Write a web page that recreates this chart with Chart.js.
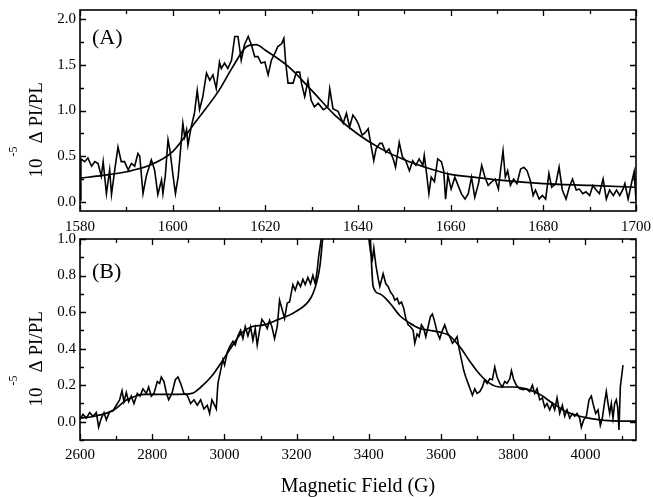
<!DOCTYPE html>
<html>
<head>
<meta charset="utf-8">
<script src="https://cdn.jsdelivr.net/npm/chart.js@4"></script>
<style>
  body { margin: 0; background: #fff; }
  .panel { position: absolute; left: 0; }
</style>
</head>
<body>
<div class="panel" style="top:0px"><canvas id="chartA" width="653" height="240"></canvas></div>
<div class="panel" style="top:230px"><canvas id="chartB" width="653" height="267"></canvas></div>
<script>
// Panel (A): measured trace and fit
const aTraceX = [1580,1580.2,1581.0,1581.7,1582.5,1583.2,1583.9,1584.6,1585.0,1585.7,
  1586.4,1586.8,1587.5,1588.2,1588.9,1589.6,1590.4,1591.1,1591.8,1592.5,
  1592.9,1593.6,1594.3,1595.4,1596.1,1596.8,1597.6,1597.9,1598.4,1599.0,
  1599.4,1600.1,1600.6,1601.2,1602.2,1602.6,1603.0,1603.3,1604.0,1604.7,
  1605.3,1605.8,1606.5,1607.3,1608.0,1608.7,1609.4,1610.1,1610.5,1611.2,
  1611.9,1612.7,1613.4,1614.1,1614.8,1615.5,1616.3,1617.0,1617.7,1618.4,
  1619.1,1619.9,1620.6,1621.3,1622.0,1622.7,1623.5,1624.0,1624.4,1624.9,
  1626.0,1626.7,1627.4,1627.8,1628.5,1629.2,1629.9,1630.6,1631.4,1632.5,
  1633.5,1633.9,1634.6,1635.7,1636.8,1637.5,1638.2,1638.9,1639.6,
  1640.1,1640.9,1641.6,1642.2,1642.7,1643.4,1643.9,1644.7,1645.2,1646.0,
  1646.7,1647.6,1648.1,1648.9,1649.6,1650.3,1651.1,1651.8,1652.5,1653.2,
  1654.0,1654.3,1654.8,1655.3,1655.8,1656.5,1657.2,1658.0,1658.5,1658.9,
  1659.4,1660.1,1660.9,1661.6,1662.3,1663.1,1663.8,1664.5,1665.2,1666.0,
  1666.7,1667.4,1668.1,1668.9,1669.6,1670.3,1670.8,1671.3,1671.8,1672.3,
  1672.9,1673.6,1674.3,1675.1,1675.8,1676.5,1677.2,1677.8,1678.3,1679.1,
  1679.8,1680.5,1681.2,1681.8,1682.7,1683.4,1684.1,1684.9,1685.6,1686.3,
  1687.1,1687.8,1688.5,1689.2,1690.0,1690.7,1691.4,1692.1,1692.9,1693.6,
  1694.3,1695.1,1695.8,1696.5,1697.2,1697.6,1698.3,1699.1,1699.6,1700];
const aTraceY = [0.02,0.47,0.44,0.48,0.39,0.44,0.42,0.28,0.44,0.09,
  0.35,0.08,0.35,0.60,0.44,0.44,0.35,0.42,0.39,0.53,
  0.50,0.09,0.28,0.46,0.35,0.08,0.24,0.09,0.28,0.68,
  0.57,0.28,0.09,0.28,0.86,0.71,0.79,0.62,0.82,0.97,
  1.22,1.01,1.15,1.41,1.33,1.39,1.24,1.53,1.46,1.52,
  1.46,1.55,1.81,1.81,1.55,1.72,1.81,1.72,1.59,1.59,
  1.52,1.53,1.39,1.55,1.62,1.70,1.73,1.79,1.52,1.30,
  1.30,1.42,1.42,1.30,1.15,1.33,1.11,1.04,1.08,1.01,
  1.04,1.24,1.02,0.99,0.86,0.97,0.82,0.95,0.90,
  0.85,0.73,0.76,0.80,0.65,0.45,0.58,0.64,0.64,0.54,
  0.58,0.47,0.38,0.65,0.49,0.45,0.34,0.45,0.40,0.47,
  0.40,0.51,0.31,0.09,0.27,0.22,0.47,0.44,0.34,0.03,
  0.29,0.14,0.27,0.18,0.09,0.03,0.09,0.27,0.05,0.20,
  0.40,0.27,0.18,0.22,0.25,0.14,0.36,0.56,0.27,0.34,
  0.18,0.25,0.20,0.36,0.38,0.34,0.23,0.07,0.13,0.03,
  0.07,0.03,0.31,0.16,0.20,0.38,0.13,0.03,0.16,0.25,
  0.13,0.14,0.09,0.11,0.07,0.18,0.13,0.09,0.25,0.03,
  0.13,0.07,0.13,0.07,0.14,0.20,0.03,0.22,0.33,0.02];
const aFitX = [1580,1585,1590,1595,1600,1605,1610,1613,1616,1618,1620,1625,1630,1635,1640,1645,1650,1655,1660,1665,1670,1680,1690,1700];
const aFitY = [0.26,0.29,0.33,0.40,0.55,0.88,1.22,1.48,1.70,1.72,1.66,1.48,1.22,0.95,0.74,0.58,0.46,0.37,0.30,0.27,0.24,0.20,0.18,0.16];

// Panel (B): measured trace and fit (null = off scale, above 1.0)
const bTraceX = [2599.1,2608.3,2617.6,2626.8,2636,2645.2,2651.7,2659.1,2666.5,2672.9,
  2682.2,2691.4,2700.6,2709.8,2716.3,2721.8,2728.3,2734.8,2742.1,2749.5,
  2758.7,2766.1,2774.4,2783.7,2790.1,2797.5,2804.9,2814.1,2820.6,2825.2,
  2832.6,2839,2845.5,2854.7,2864,2871.3,2878.7,2887.9,2897.1,2906.4,
  2915.6,2924.8,2934.1,2943.3,2952.5,2959,2965.4,2972.8,2977.4,2982,
  2989.4,2995.9,3000.5,3007.9,3014.3,3023.6,3030,3037.4,3044.8,3051.2,
  3057.7,3065.1,3072.5,3078.9,3085.4,3090.9,3097.4,3103.8,3111.2,3118.6,
  3125.1,3131.5,3138.9,3146.3,3152.7,3159.2,3166.6,3174,3180.4,3189.6,
  3196.1,3203.5,3210.9,3217.3,3223.8,3231.2,3238.6,3245,3251.5,3257,
  3260.7,3266.2,3272,
  3335,
  3399,3401,3404.6,3410,3413.8,3419.3,3425.8,3430.4,3439.6,3447,
  3453.5,3459.9,3467.3,3471.9,3478.4,3483.9,3490.4,3496.8,3502.4,3508.8,
  3515.3,3522.7,3527.3,3533.7,3539.3,3545.7,3552.2,3557.7,3564.2,3570.6,
  3576.2,3582.6,3589.1,3596.5,3603.9,3610.3,3616.8,3624.2,3631.5,3638,
  3644.5,3650,3656.5,3662.9,3668.5,3674.9,3681.4,3686.9,3693.4,3699.8,
  3707.2,3714.6,3721,3727.5,3734.9,3742.3,3748.7,3755.2,3762.6,3770,
  3776.4,3782.9,3790.3,3794.9,3801.3,3808.7,3817.9,3827.2,3836.4,3845.6,
  3853,3859.5,3865.9,3873.3,3880.7,3887.1,3893.6,3901,3908.4,3914.8,
  3921.3,3928.7,3936,3942.5,3949,3956.3,3963.7,3970.2,3976.6,3984,
  3988.6,3995.1,4002.5,4009.9,4016.3,4020.9,4028.3,4034.8,4041.2,4046.8,
  4053.2,4057.8,4062.5,4067.1,4071.7,4076.3,4081,4085.5,4089.2,4092.9,
  4096.6,4104];
const bTraceY = [0.01,0.04,0.02,0.05,0.03,0.05,-0.03,0.02,0.05,0.01,
  0.055,0.06,0.09,0.12,0.17,0.11,0.16,0.11,0.14,0.10,
  0.155,0.14,0.18,0.155,0.19,0.14,0.155,0.22,0.21,0.245,
  0.22,0.16,0.12,0.155,0.23,0.245,0.21,0.155,0.145,0.10,
  0.12,0.09,0.12,0.07,0.09,0.045,0.12,0.09,0.07,0.21,
  0.28,0.34,0.31,0.38,0.41,0.44,0.42,0.47,0.50,0.455,
  0.52,0.47,0.52,0.445,0.51,0.42,0.50,0.56,0.54,0.51,
  0.555,0.52,0.455,0.52,0.665,0.62,0.565,0.65,0.655,0.75,
  0.72,0.765,0.74,0.78,0.75,0.79,0.755,0.80,0.755,0.83,
  0.90,0.975,1.05,
  null,
  1.05,0.99,0.93,0.89,0.95,0.86,0.785,0.74,0.81,0.755,
  0.74,0.71,0.69,0.665,0.675,0.645,0.655,0.62,0.565,0.53,
  0.52,0.50,0.43,0.48,0.465,0.53,0.51,0.465,0.52,0.575,
  0.59,0.545,0.49,0.455,0.50,0.53,0.49,0.465,0.43,0.445,
  0.465,0.40,0.34,0.28,0.245,0.21,0.175,0.145,0.18,0.155,
  0.165,0.19,0.23,0.21,0.235,0.23,0.30,0.245,0.21,0.19,
  0.22,0.21,0.235,0.28,0.23,0.20,0.18,0.175,0.18,0.165,
  0.20,0.155,0.18,0.12,0.13,0.08,0.10,0.065,0.10,0.065,
  0.13,0.045,0.09,0.03,0.065,0.02,0.045,0.03,0.045,0.02,
  -0.03,0.01,0.03,0.12,0.14,0.10,0.045,0.065,-0.02,0.02,
  0.11,0.165,0.10,0.045,0.10,0.02,0.10,0.12,0.08,-0.045,
  0.19,0.31];
const bFitX = [2600,2640,2690,2730,2780,2830,2870,2910,2935,2965,2990,3020,3045,3075,3110,3150,3195,3240,3255,3265,3274,
  3335,
  3403,3412,3430,3458,3486,3513,3541,3569,3597,3624,3652,3680,3707,3735,3763,3800,3836,3873,3910,3947,3984,4030,4076,4140];
const bFitY = [0.02,0.03,0.06,0.12,0.15,0.15,0.15,0.155,0.19,0.25,0.32,0.41,0.48,0.52,0.53,0.56,0.60,0.68,0.76,0.86,1.05,
  null,
  1.05,0.74,0.70,0.65,0.58,0.54,0.51,0.50,0.49,0.47,0.41,0.33,0.26,0.21,0.19,0.19,0.18,0.15,0.10,0.055,0.03,0.013,0.005,0.003];

const SERIF = '"Liberation Serif", "Times New Roman", serif';

function points(xs, ys) {
  return xs.map((x, i) => ({ x: x, y: ys[i] }));
}

// frame with inward ticks on all four sides, panel letter and y title
const framePlugin = {
  id: 'frame',
  afterDatasetsDraw(chart, args, opts) {
    const { ctx, chartArea: a, scales: { x, y } } = chart;
    ctx.save();
    ctx.strokeStyle = '#000';
    ctx.lineWidth = 1.6;
    ctx.strokeRect(a.left, a.top, a.right - a.left, a.bottom - a.top);

    ctx.lineWidth = 1.3;
    ctx.beginPath();
    const xMaj = x.ticks.map(t => t.value);
    const xStep = xMaj[1] - xMaj[0];
    for (let v = xMaj[0] - xStep / 2; v <= x.max + 1e-9; v += xStep / 2) {
      if (v < x.min) continue;
      const major = xMaj.some(m => Math.abs(m - v) < 1e-6);
      const len = major ? 6 : 4;
      const p = Math.round(x.getPixelForValue(v)) + 0.5;
      ctx.moveTo(p, a.bottom); ctx.lineTo(p, a.bottom - len);
      ctx.moveTo(p, a.top); ctx.lineTo(p, a.top + len);
    }
    const yMaj = y.ticks.map(t => t.value);
    const yStep = yMaj[1] - yMaj[0];
    for (let v = yMaj[0] - yStep / 2; v <= y.max + 1e-9; v += yStep / 2) {
      if (v < y.min) continue;
      const major = yMaj.some(m => Math.abs(m - v) < 1e-6);
      const len = major ? 6 : 4;
      const p = Math.round(y.getPixelForValue(v)) + 0.5;
      ctx.moveTo(a.left, p); ctx.lineTo(a.left + len, p);
      ctx.moveTo(a.right, p); ctx.lineTo(a.right - len, p);
    }
    ctx.stroke();

    ctx.fillStyle = '#000';
    ctx.textBaseline = 'alphabetic';
    ctx.textAlign = 'left';
    ctx.font = '22px ' + SERIF;
    ctx.fillText(opts.letter, a.left + 12, a.top + opts.letterDy);

    // rotated y title: 10^-5  Δ PI/PL
    const cy = (a.top + a.bottom) / 2 + 18;
    ctx.translate(42, cy);
    ctx.rotate(-Math.PI / 2);
    const x0 = -49;
    ctx.font = '19px ' + SERIF;
    ctx.fillText('10', x0, 0);
    ctx.font = '12px ' + SERIF;
    ctx.fillText('-5', x0 + 21, -25);
    ctx.font = '19px ' + SERIF;
    ctx.fillText('\u0394 PI/PL', x0 + 34, 0);
    ctx.restore();
  }
};

function makeChart(id, cfg) {
  const lineBase = { borderColor: '#000', pointRadius: 0, fill: false, spanGaps: false };
  return new Chart(document.getElementById(id), {
    type: 'line',
    data: {
      datasets: [
        Object.assign({ data: points(cfg.traceX, cfg.traceY), borderWidth: 1.6, tension: 0 }, lineBase),
        Object.assign({ data: points(cfg.fitX, cfg.fitY), borderWidth: 1.7, cubicInterpolationMode: 'monotone' }, lineBase)
      ]
    },
    options: {
      responsive: false,
      animation: false,
      layout: { padding: { left: 0, right: 17, top: cfg.padTop, bottom: 0 } },
      plugins: {
        legend: { display: false },
        tooltip: { enabled: false },
        frame: { letter: cfg.letter, letterDy: cfg.letterDy }
      },
      scales: {
        x: {
          type: 'linear', min: cfg.xMin, max: cfg.xMax,
          border: { display: false },
          grid: { display: false, drawTicks: false },
          ticks: {
            stepSize: cfg.xStep, includeBounds: false, autoSkip: false, maxRotation: 0,
            padding: cfg.xPad, color: '#000', font: { family: SERIF, size: 15 },
            callback: v => String(v)
          },
          title: cfg.xTitle ? {
            display: true, text: cfg.xTitle, color: '#000',
            font: { family: SERIF, size: 20, lineHeight: 1 }, padding: { top: 0, bottom: 0 }
          } : { display: false },
          afterFit: s => { s.height = cfg.xHeight; s.paddingLeft = 0; s.paddingRight = 0; }
        },
        y: {
          type: 'linear', min: cfg.yMin, max: cfg.yMax,
          border: { display: false },
          grid: { display: false, drawTicks: false },
          ticks: {
            stepSize: cfg.yStep, includeBounds: false, autoSkip: false,
            padding: 4, color: '#000', font: { family: SERIF, size: 15 },
            callback: v => v.toFixed(1)
          },
          afterFit: s => { s.width = 80; s.paddingTop = 0; s.paddingBottom = 0; }
        }
      }
    },
    plugins: [framePlugin]
  });
}

makeChart('chartA', {
  traceX: aTraceX, traceY: aTraceY, fitX: aFitX, fitY: aFitY,
  xMin: 1580, xMax: 1700, xStep: 20, yMin: -0.1, yMax: 2.1, yStep: 0.5,
  padTop: 10, xHeight: 29, xPad: 7, letter: '(A)', letterDy: 34
});

makeChart('chartB', {
  traceX: bTraceX, traceY: bTraceY, fitX: bFitX, fitY: bFitY,
  xMin: 2600, xMax: 4140, xStep: 200, yMin: -0.1, yMax: 1.0, yStep: 0.2,
  padTop: 9, xHeight: 57, xPad: 6, letter: '(B)', letterDy: 39,
  xTitle: 'Magnetic Field (G)'
});
</script>
</body>
</html>
